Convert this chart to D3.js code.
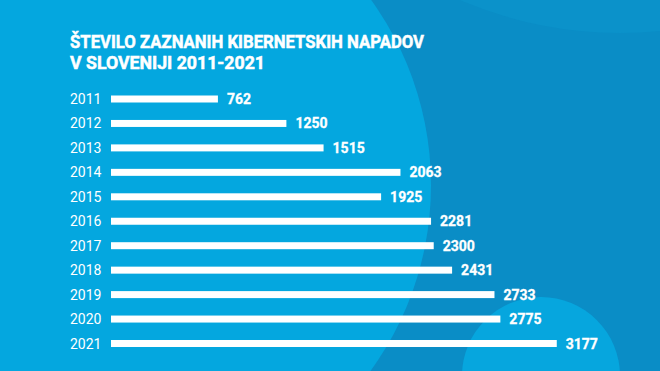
<!DOCTYPE html>
<html>
<head>
<meta charset="utf-8">
<script src="https://cdn.jsdelivr.net/npm/d3@7"></script>
<style>
  html, body { margin: 0; padding: 0; background: #0a8dc6; }
  svg { display: block; }
  .title { font-family: Roboto, sans-serif; font-weight: bold; font-size: 18px; fill: #fff; stroke: #fff; stroke-width: 0.5px; }
  .year { font-family: Roboto, sans-serif; font-size: 14px; fill: #fff; }
  .val { font-family: Roboto, sans-serif; font-weight: bold; font-size: 14px; fill: #fff; stroke: #fff; stroke-width: 0.3px; }
</style>
</head>
<body>
<svg id="chart"></svg>
<script>
var width = 660, height = 371;

var years = ["2011","2012","2013","2014","2015","2016","2017","2018","2019","2020","2021"];
var attacks = [762, 1250, 1515, 2063, 1925, 2281, 2300, 2431, 2733, 2775, 3177];
var titleLines = ["ŠTEVILO ZAZNANIH KIBERNETSKIH NAPADOV", "V SLOVENIJI 2011-2021"];
var titleWidths = [354, 195];

var data = years.map(function(y, i){ return {year: y, value: attacks[i]}; });

var svg = d3.select("#chart").attr("width", width).attr("height", height);

// background shapes
svg.append("rect").attr("width", width).attr("height", height).attr("fill", "#0a8dc6");
svg.append("circle").attr("cx", 620).attr("cy", -371).attr("r", 404).attr("fill", "#0b92ca");
svg.append("circle").attr("cx", 115).attr("cy", 185).attr("r", 316).attr("fill", "#04a7df");
svg.append("circle").attr("cx", 541).attr("cy", 376).attr("r", 79).attr("fill", "#06a6de");

var x = d3.scaleLinear().domain([0, 3200]).range([111, 560]);
var y = d3.scalePoint().domain(years).range([99, 343.5]);
var barH = 7;

svg.selectAll(".title").data(titleLines).enter().append("text")
    .attr("class", "title")
    .attr("x", 70)
    .attr("y", function(d, i){ return 48 + i * 21; })
    .attr("textLength", function(d, i){ return titleWidths[i]; })
    .attr("lengthAdjust", "spacingAndGlyphs")
    .text(function(d){ return d; });

svg.selectAll(".bar").data(data).enter().append("rect")
    .attr("class", "bar")
    .attr("x", x(0))
    .attr("y", function(d){ return y(d.year) - barH / 2; })
    .attr("width", function(d){ return x(d.value) - x(0); })
    .attr("height", barH)
    .attr("fill", "#fff");

svg.selectAll(".year").data(data).enter().append("text")
    .attr("class", "year")
    .attr("x", 70)
    .attr("y", function(d){ return y(d.year) + 5; })
    .text(function(d){ return d.year; });

svg.selectAll(".val").data(data).enter().append("text")
    .attr("class", "val")
    .attr("x", function(d){ return x(d.value) + 9; })
    .attr("y", function(d){ return y(d.year) + 5; })
    .text(function(d){ return d.value; });
</script>
</body>
</html>
